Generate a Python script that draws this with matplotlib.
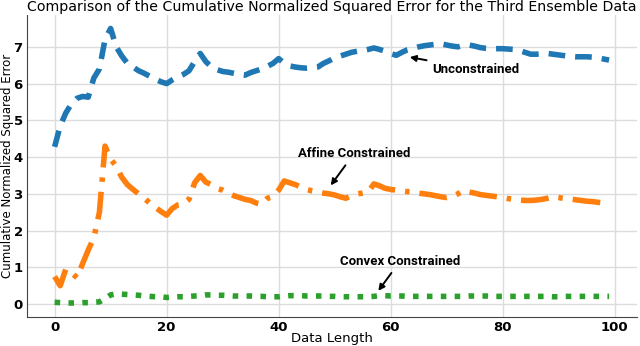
#!/usr/bin/env python3

import matplotlib
matplotlib.use("Agg")
import matplotlib.pyplot as plt


# values
data_length = list(range(100))

unconstrained = [
    4.28, 4.85, 5.20, 5.45, 5.60, 5.65, 5.63, 6.15, 6.40, 7.20,
    7.50, 7.00, 6.75, 6.55, 6.45, 6.35, 6.28, 6.20, 6.12, 6.05,
    6.00, 6.10, 6.18, 6.25, 6.35, 6.60, 6.82, 6.60, 6.45, 6.38,
    6.33, 6.31, 6.28, 6.25, 6.23, 6.30, 6.35, 6.40, 6.47, 6.55,
    6.68, 6.55, 6.48, 6.45, 6.43, 6.42, 6.43, 6.45, 6.55, 6.62,
    6.70, 6.75, 6.80, 6.85, 6.88, 6.90, 6.93, 6.97, 6.93, 6.88,
    6.82, 6.77, 6.85, 6.92, 6.96, 7.00, 7.03, 7.05, 7.07, 7.08,
    7.05, 7.02, 7.00, 7.04, 7.05, 7.02, 6.98, 6.96, 6.95, 6.95,
    6.95, 6.94, 6.93, 6.90, 6.85, 6.80, 6.80, 6.81, 6.82, 6.80,
    6.78, 6.76, 6.74, 6.73, 6.73, 6.73, 6.72, 6.70, 6.67, 6.64,
]

affine = [
    0.75, 0.50, 0.95, 0.85, 0.72, 1.10, 1.47, 1.80, 2.50, 4.30,
    3.95, 3.75, 3.45, 3.25, 3.12, 3.00, 2.88, 2.75, 2.63, 2.52,
    2.42, 2.60, 2.70, 2.73, 2.85, 3.30, 3.50, 3.32, 3.25, 3.15,
    3.10, 3.02, 2.95, 2.90, 2.85, 2.82, 2.75, 2.72, 2.88, 2.92,
    3.10, 3.35, 3.30, 3.25, 3.18, 3.12, 3.08, 3.05, 3.02, 3.00,
    2.97, 2.92, 2.88, 2.95, 3.00, 3.02, 3.05, 3.27, 3.22, 3.15,
    3.12, 3.10, 3.08, 3.06, 3.05, 3.02, 3.00, 2.98, 2.95, 2.92,
    2.90, 2.93, 3.00, 3.09, 3.05, 3.02, 2.98, 2.96, 2.94, 2.92,
    2.90, 2.87, 2.85, 2.83, 2.82, 2.82, 2.83, 2.85, 2.88, 2.92,
    2.90, 2.87, 2.86, 2.84, 2.82, 2.80, 2.79, 2.77, 2.75, 2.73,
]

convex = [
    0.05, 0.04, 0.03, 0.03, 0.03, 0.04, 0.04, 0.05, 0.06, 0.15,
    0.25, 0.28, 0.27, 0.26, 0.25, 0.24, 0.22, 0.21, 0.20, 0.20,
    0.18, 0.19, 0.20, 0.20, 0.21, 0.22, 0.23, 0.25, 0.25, 0.24,
    0.24, 0.23, 0.22, 0.22, 0.22, 0.22, 0.21, 0.21, 0.20, 0.20,
    0.20, 0.22, 0.23, 0.23, 0.23, 0.22, 0.22, 0.22, 0.22, 0.21,
    0.21, 0.20, 0.20, 0.20, 0.20, 0.20, 0.20, 0.21, 0.23, 0.23,
    0.22, 0.22, 0.22, 0.21, 0.21, 0.21, 0.21, 0.21, 0.21, 0.21,
    0.21, 0.21, 0.21, 0.21, 0.22, 0.22, 0.22, 0.22, 0.21, 0.21,
    0.21, 0.21, 0.21, 0.21, 0.21, 0.21, 0.21, 0.21, 0.21, 0.20,
    0.20, 0.21, 0.21, 0.21, 0.21, 0.21, 0.21, 0.21, 0.21, 0.21,
]

annot_font = dict(family="Roboto", weight="bold", size=9.5)
arrow = dict(arrowstyle="-|>", color="black", lw=1.4, mutation_scale=9,
             shrinkA=2, shrinkB=0)


fig = plt.figure(figsize=(6.4, 3.46), dpi=100)
ax = fig.add_axes([0.042, 0.085, 0.953, 0.872])

ax.plot(data_length, unconstrained, color="#1f77b4", lw=4, dashes=(3.0, 1.8))
ax.plot(data_length, affine, color="#ff7f0e", lw=4,
        dashes=(5.0, 1.8, 0.8, 1.8))
ax.plot(data_length, convex, color="#2ca02c", lw=4, dashes=(1.0, 1.5))

ax.annotate("Unconstrained", xy=(63.4, 6.72), xytext=(67.4, 6.39),
            ha="left", va="center", arrowprops=arrow, **annot_font)
ax.annotate("Affine Constrained", xy=(49.3, 3.23), xytext=(43.4, 4.09),
            ha="left", va="center", arrowprops=arrow, **annot_font)
ax.annotate("Convex Constrained", xy=(57.8, 0.36), xytext=(50.9, 1.16),
            ha="left", va="center", arrowprops=arrow, **annot_font)

ax.set_xlim(-4.95, 103.95)
ax.set_ylim(-0.34, 7.87)
ax.set_xticks([0, 20, 40, 60, 80, 100])
ax.set_yticks(range(8))
ax.grid(True, color="#dcdcdc", lw=1)
ax.set_axisbelow(True)
for side in ["top", "right"]:
    ax.spines[side].set_visible(False)
for side in ["left", "bottom"]:
    ax.spines[side].set_color("#444444")
ax.tick_params(length=0, pad=3, labelsize=9.5)
for lab in ax.get_xticklabels() + ax.get_yticklabels():
    lab.set_fontweight("bold")

ax.set_title("Comparison of the Cumulative Normalized Squared Error for the Third Ensemble Data",
             fontsize=10.2, pad=3)
ax.set_xlabel("Data Length", fontsize=9.5)
ax.set_ylabel("Cumulative Normalized Squared Error", fontsize=8.5)
ax.xaxis.set_label_coords(0.5, -0.052)
ax.yaxis.set_label_coords(-0.031, 0.5)
ax.xaxis.label.set_va("top")
ax.yaxis.label.set_va("center")

fig.savefig("out.png", dpi=100)
